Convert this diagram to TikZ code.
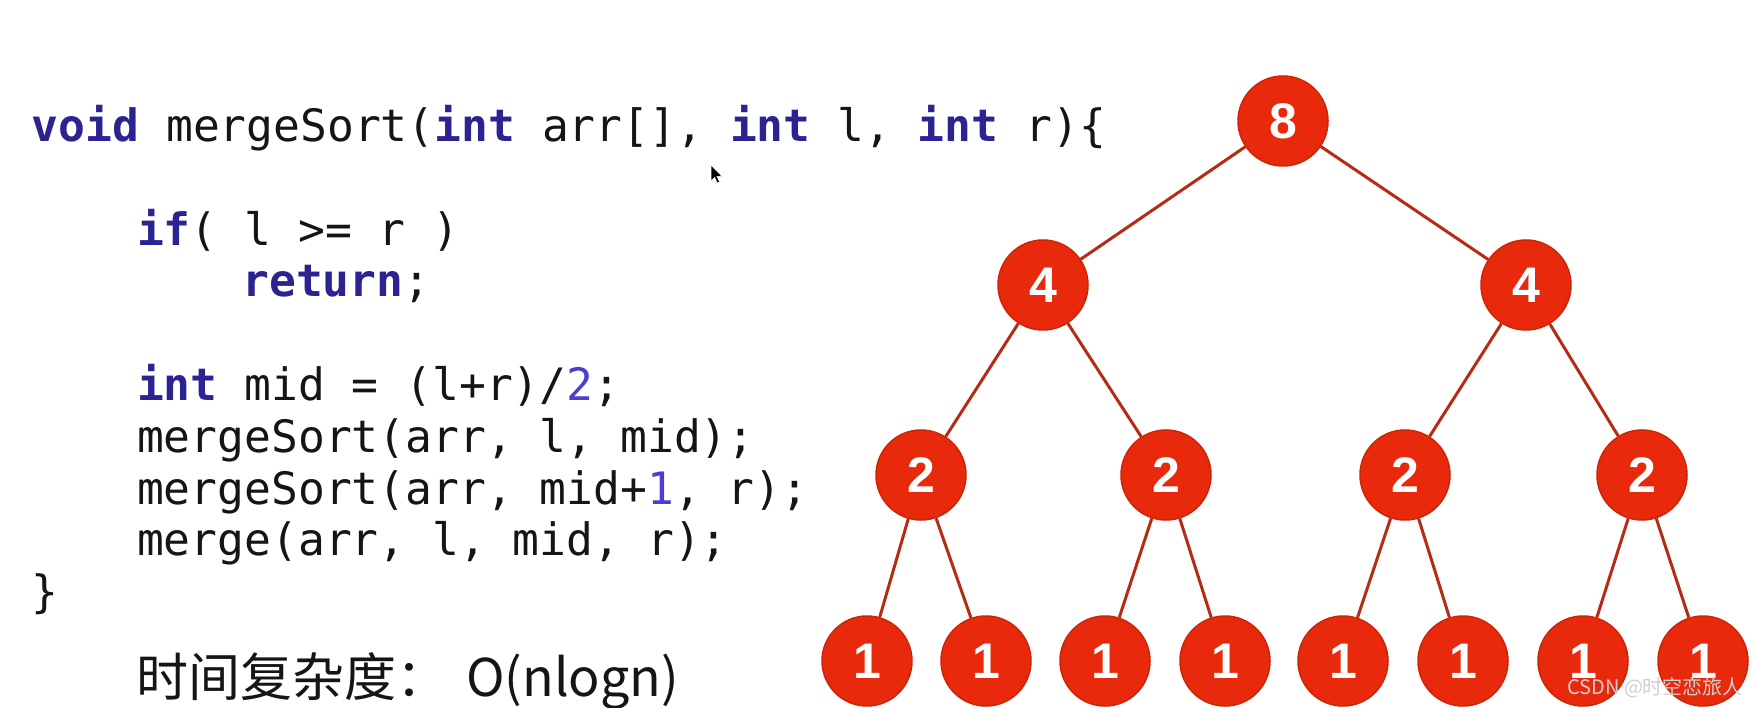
\documentclass[tikz,border=0pt]{standalone}
\usepackage{fontspec}
\setmonofont{DejaVu Sans Mono}
\newfontfamily\cjk{Noto Sans CJK SC}
\newfontfamily\numfont{Liberation Sans}
\definecolor{kw}{HTML}{2A2391}
\definecolor{numc}{HTML}{4A3FD0}
\definecolor{codec}{HTML}{151515}
\definecolor{nodefill}{HTML}{E8290B}
\definecolor{nodeline}{HTML}{CC2508}
\definecolor{edgec}{HTML}{B52C16}
\definecolor{wm}{HTML}{D0D0D0}
\newcommand{\kwd}[1]{\textcolor{kw}{\bfseries #1}}
\newcommand{\numl}[1]{\textcolor{numc}{#1}}
\begin{document}
\begin{tikzpicture}[x=1pt,y=-1pt,
  codeline/.style={anchor=base west,inner sep=0pt,text=codec,
    font=\ttfamily\fontsize{44.6}{50}\selectfont},
  tnode/.style={circle,minimum size=90pt,inner sep=0pt,fill=nodefill,
    draw=nodeline,line width=1.5pt,text=white,
    font=\numfont\bfseries\fontsize{50}{50}\selectfont},
  tedge/.style={draw=edgec,line width=3pt}]
\useasboundingbox[fill=white] (0,0) rectangle (1754,708);
% code
\node[codeline] (c1) at (31.7,141.5) {\kwd{void} mergeSort(\kwd{int} arr[], \kwd{int} l, \kwd{int} r)\{};
\node[codeline] (c2) at (136.9,245.1) {\kwd{if}( l >= r )};
\node[codeline] (c3) at (242.1,296.9) {\kwd{return};};
\node[codeline] (c4) at (136.9,400.5) {\kwd{int} mid = (l+r)/\numl{2};};
\node[codeline] (c5) at (136.9,452.3) {mergeSort(arr, l, mid);};
\node[codeline] (c6) at (136.9,504.1) {mergeSort(arr, mid+\numl{1}, r);};
\node[codeline] (c7) at (136.9,555.9) {merge(arr, l, mid, r);};
\node[codeline] (c8) at (31.7,607.7) {\}};
\node[anchor=base west,inner sep=0pt,text=codec,font=\cjk\fontsize{52}{56}\selectfont]
  (cx) at (136,696) {时间复杂度：\hspace{18pt}O(nlogn)};
% cursor
\fill[black,draw=white,line width=0.6pt] (711,165) -- (711,181) -- (714.6,177.4) -- (717.2,183) -- (719.6,182) -- (717,176.4) -- (722,176.4) -- cycle;
% tree
\node[tnode] (r) at (1283,121) {8};
\node[tnode] (a1) at (1043,285) {4};
\node[tnode] (a2) at (1526,285) {4};
\node[tnode] (b1) at (921,475) {2};
\node[tnode] (b2) at (1166,475) {2};
\node[tnode] (b3) at (1405,475) {2};
\node[tnode] (b4) at (1642,475) {2};
\node[tnode] (l1) at (867,661) {1};
\node[tnode] (l2) at (986,661) {1};
\node[tnode] (l3) at (1105,661) {1};
\node[tnode] (l4) at (1225,661) {1};
\node[tnode] (l5) at (1343,661) {1};
\node[tnode] (l6) at (1463,661) {1};
\node[tnode] (l7) at (1583,661) {1};
\node[tnode] (l8) at (1703,661) {1};
\path[tedge] (r) -- (a1) (r) -- (a2)
  (a1) -- (b1) (a1) -- (b2) (a2) -- (b3) (a2) -- (b4)
  (b1) -- (l1) (b1) -- (l2) (b2) -- (l3) (b2) -- (l4)
  (b3) -- (l5) (b3) -- (l6) (b4) -- (l7) (b4) -- (l8);
% watermark
\node[anchor=base west,inner sep=0pt,text=wm,font=\cjk\fontsize{20}{21}\selectfont]
  (wmk) at (1567,694) {CSDN @时空恋旅人};
\end{tikzpicture}
\end{document}
